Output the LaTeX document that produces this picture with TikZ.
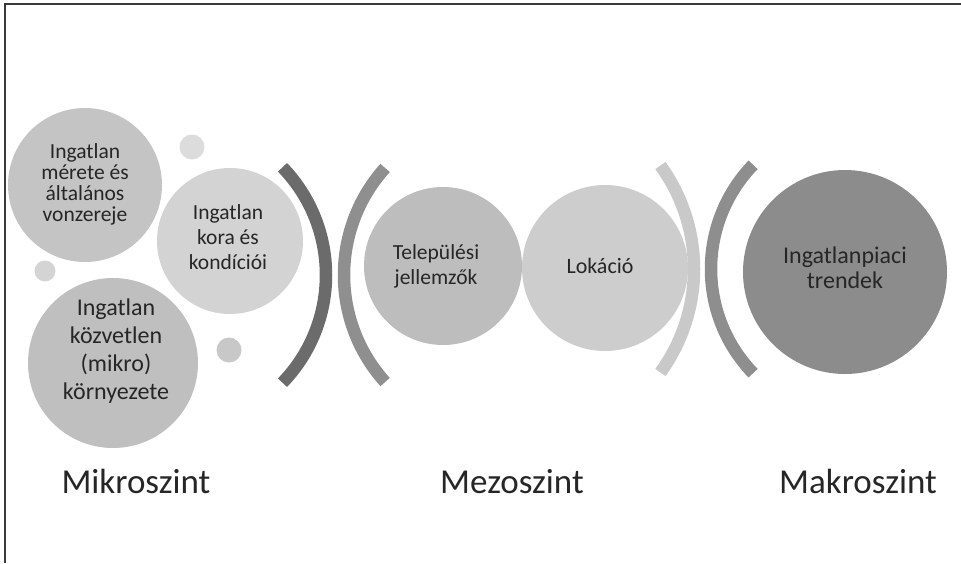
\documentclass[tikz,border=0pt]{standalone}
\usepackage{fontspec}
\setmainfont{Carlito}
\usepackage{tikz}
\usetikzlibrary{positioning, calc}

\definecolor{txtdark}{HTML}{262626}
\definecolor{frameline}{HTML}{3A3A3A}
\definecolor{bubA}{HTML}{C4C4C4}
\definecolor{bubB}{HTML}{D3D3D3}
\definecolor{bubC}{HTML}{BFBFBF}
\definecolor{bubD}{HTML}{BDBDBD}
\definecolor{bubE}{HTML}{CDCDCD}
\definecolor{bubF}{HTML}{8C8C8C}
\definecolor{dotA}{HTML}{DCDCDC}
\definecolor{dotB}{HTML}{D4D4D4}
\definecolor{dotC}{HTML}{C8C8C8}
\definecolor{arcA}{HTML}{6B6B6B}
\definecolor{arcB}{HTML}{8F8F8F}
\definecolor{arcC}{HTML}{C9C9C9}
\definecolor{arcD}{HTML}{8E8E8E}

\begin{document}
\begin{tikzpicture}[
    x=1pt, y=1pt,
    bubble/.style={circle, inner sep=0pt, draw=none},
    btext/.style={align=center, text=txtdark, font=\fontsize{21.5}{25}\selectfont},
    bracket/.style={line width=12.5pt},
    level/.style={text=txtdark, font=\fontsize{35}{40}\selectfont, anchor=base},
]

\useasboundingbox (0,0) rectangle (961,-563);

% frame, only top and left edge visible
\draw[frameline, line width=1.8pt] (5,-563) -- (5,-4) -- (961,-4);

% micro level bubbles
\node[bubble, fill=dotA, minimum size=25] (dot1) at (192,-147) {};
\node[bubble, fill=dotB, minimum size=21] (dot2) at (45,-271) {};
\node[bubble, fill=dotC, minimum size=25] (dot3) at (229,-350) {};

\node[bubble, fill=bubA, minimum size=154] (meret) at (85,-185) {};
\node[bubble, fill=bubB, minimum size=146] (kora) at (230,-241) {};
\node[bubble, fill=bubC, minimum size=170] (kornyezet) at (113,-363) {};

\node[btext, font=\fontsize{21.5}{21}\selectfont] (meretT) at (85,-184) {Ingatlan\\mérete és\\általános\\vonzereje};
\node[btext] (koraT) at (228,-237) {Ingatlan\\kora és\\kondíciói};
\node[btext, font=\fontsize{24}{28}\selectfont] (kornyezetT) at (116,-351) {Ingatlan\\közvetlen\\(mikro)\\környezete};

% brackets between the levels
\draw[bracket, arcA] (171,-275) ++(-44:155) arc[start angle=-44, end angle=44, radius=155];
\draw[bracket, arcB] (504,-275) ++(138:160) arc[start angle=138, end angle=222, radius=160];
\draw[bracket, arcC] (518,-269) ++(-36:176) arc[start angle=-36, end angle=36, radius=176];
\draw[bracket, arcD] (861,-269) ++(136:150) arc[start angle=136, end angle=224, radius=150];

% meso level
\node[bubble, fill=bubD, minimum size=158] (telep) at (443,-266) {};
\node[bubble, fill=bubE, minimum size=166] (lokacio) at (605,-268) {};
\node[btext] (telepT) at (436,-266) {Települési\\jellemzők};
\node[btext, font=\fontsize{22}{25}\selectfont] (lokacioT) at (600,-266) {Lokáció};

% macro level
\node[bubble, fill=bubF, minimum size=204] (trend) at (845,-272) {};
\node[btext, font=\fontsize{24}{25}\selectfont] (trendT) at (845,-268) {Ingatlanpiaci\\trendek};

% level names
\node[level] (mikro) at (136,-493) {Mikroszint};
\node[level] (mezo) at (512,-493) {Mezoszint};
\node[level] (makro) at (858,-493) {Makroszint};

\end{tikzpicture}
\end{document}
